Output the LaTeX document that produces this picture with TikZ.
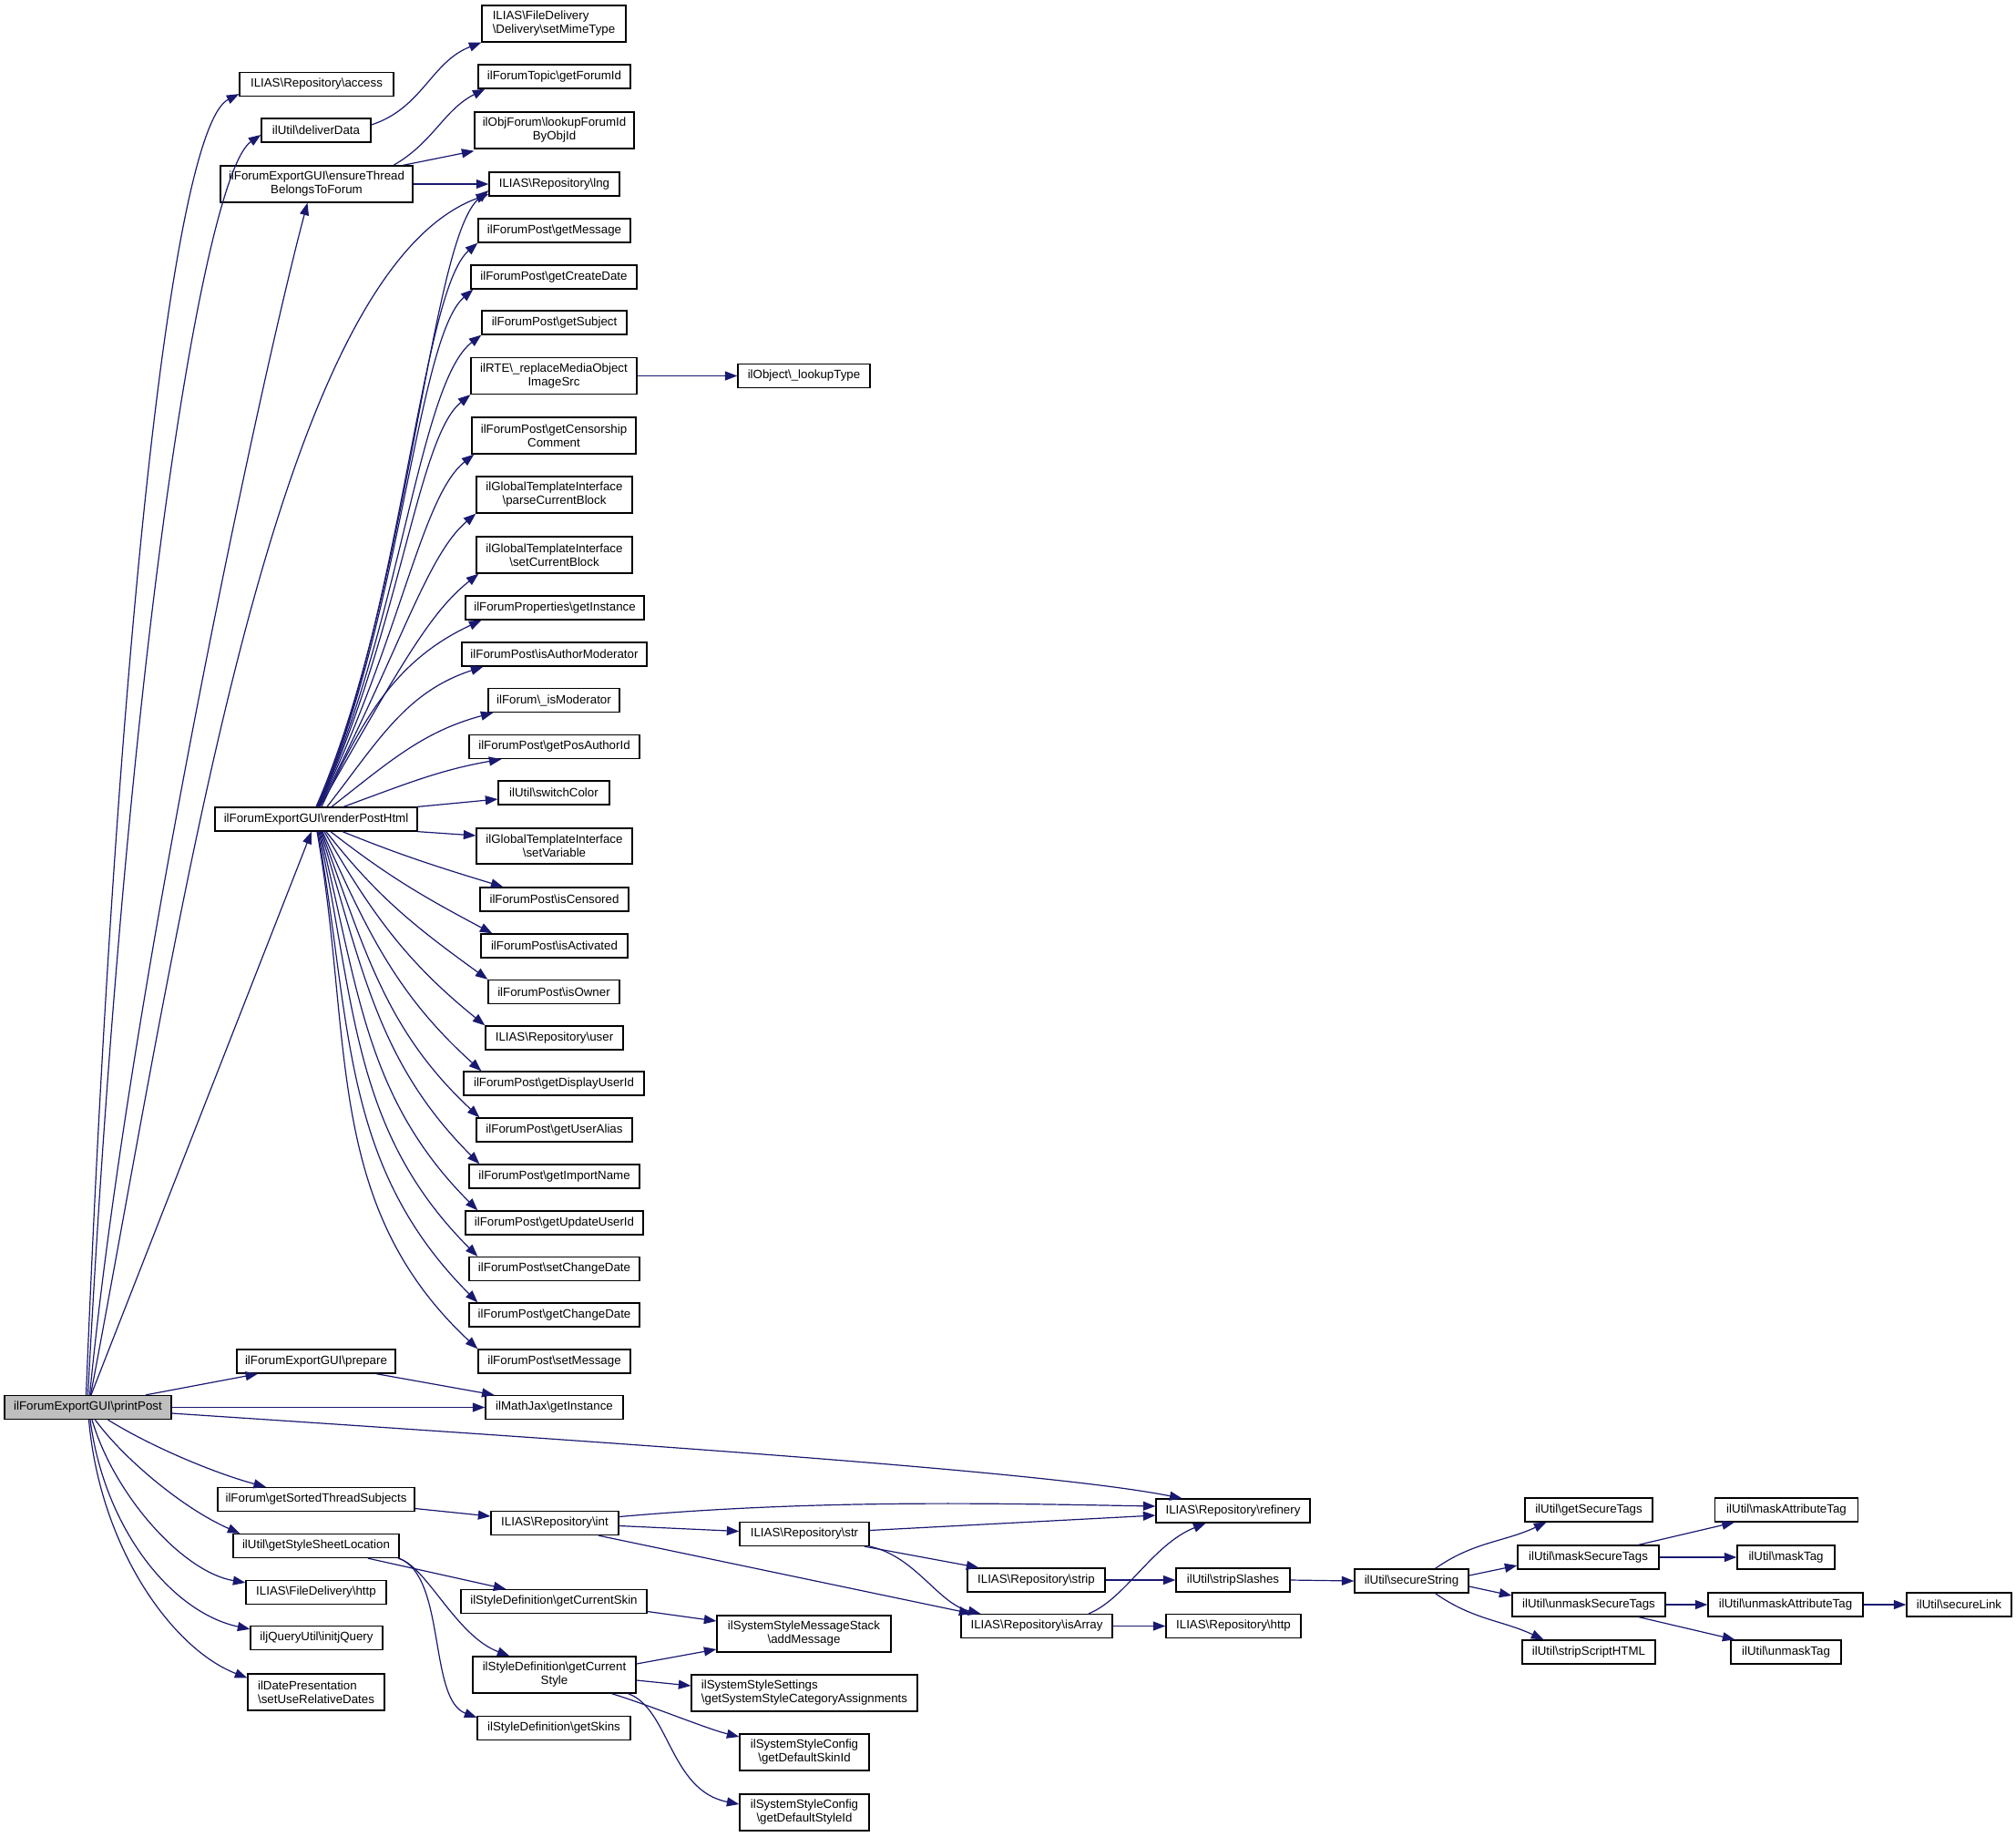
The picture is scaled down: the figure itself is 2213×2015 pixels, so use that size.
\documentclass[tikz,border=0pt]{standalone}
\usepackage{fontspec}
\setmainfont{Liberation Sans}
\usetikzlibrary{arrows.meta}
\definecolor{edgec}{HTML}{191970}
\definecolor{ppfill}{HTML}{BFBFBF}
\newcommand{\dbs}{\textbackslash}
\newcommand{\dfont}{\fontsize{13.3pt}{15pt}\selectfont}
\begin{document}
\begin{tikzpicture}[x=1pt,y=1pt,
  box/.style={draw=black, line width=1.3pt, fill=white, inner sep=0pt, minimum height=26pt, font=\dfont, align=center},
  two/.style={minimum height=40pt},
  lft/.style={align=left},
  e/.style={draw=edgec, line width=1.2pt, -{Triangle[length=13.5pt,width=10pt]}}]
\useasboundingbox (0,0) rectangle (2213,-2015);
% column 0
\node[box, minimum width=183, fill=ppfill] (pp) at (96.5,-1544.5) {ilForumExportGUI\dbs printPost};
% column 1
\node[box, minimum width=169] (acc) at (347.5,-92.5) {ILIAS\dbs Repository\dbs access};
\node[box, minimum width=120] (dd) at (347,-143) {ilUtil\dbs deliverData};
\node[box, two, minimum width=211] (et) at (347.5,-202) {ilForumExportGUI\dbs ensureThread\\BelongsToForum};
\node[box, minimum width=222] (rp) at (347,-899) {ilForumExportGUI\dbs renderPostHtml};
\node[box, minimum width=174] (prep) at (347,-1494) {ilForumExportGUI\dbs prepare};
\node[box, minimum width=216] (gsts) at (347,-1645.5) {ilForum\dbs getSortedThreadSubjects};
\node[box, minimum width=182] (gssl) at (347,-1696.5) {ilUtil\dbs getStyleSheetLocation};
\node[box, minimum width=154] (fdh) at (347,-1747.5) {ILIAS\dbs FileDelivery\dbs http};
\node[box, minimum width=145] (ijq) at (347.5,-1797.5) {iljQueryUtil\dbs initjQuery};
\node[box, two, lft, minimum width=150] (surd) at (347,-1857) {ilDatePresentation\\\dbs setUseRelativeDates};
% column 2
\node[box, two, lft, minimum width=158] (smt) at (608,-26) {ILIAS\dbs FileDelivery\\\dbs Delivery\dbs setMimeType};
\node[box, minimum width=167] (gfi) at (608.5,-84) {ilForumTopic\dbs getForumId};
\node[box, two, minimum width=175] (lfi) at (608.5,-143) {ilObjForum\dbs lookupForumId\\ByObjId};
\node[box, minimum width=143] (lng) at (608.5,-202) {ILIAS\dbs Repository\dbs lng};
\node[box, minimum width=167] (gm) at (608.5,-253) {ilForumPost\dbs getMessage};
\node[box, minimum width=182] (gcd) at (608,-304) {ilForumPost\dbs getCreateDate};
\node[box, minimum width=159] (gs) at (608.5,-354) {ilForumPost\dbs getSubject};
\node[box, two, minimum width=182] (rmo) at (608,-412.5) {ilRTE\dbs\_replaceMediaObject\\ImageSrc};
\node[box, two, minimum width=180] (gcc) at (608,-478) {ilForumPost\dbs getCensorship\\Comment};
\node[box, two, minimum width=171] (pcb) at (608.5,-543) {ilGlobalTemplateInterface\\\dbs parseCurrentBlock};
\node[box, two, minimum width=171] (scb) at (608.5,-609) {ilGlobalTemplateInterface\\\dbs setCurrentBlock};
\node[box, minimum width=196] (fpi) at (609,-667) {ilForumProperties\dbs getInstance};
\node[box, minimum width=203] (iam) at (608.5,-718) {ilForumPost\dbs isAuthorModerator};
\node[box, minimum width=144] (ism) at (608,-768.5) {ilForum\dbs\_isModerator};
\node[box, minimum width=187] (gpa) at (608.5,-819.5) {ilForumPost\dbs getPosAuthorId};
\node[box, minimum width=122] (swc) at (608,-870) {ilUtil\dbs switchColor};
\node[box, two, minimum width=171, minimum height=39pt] (sv) at (608.5,-928.5) {ilGlobalTemplateInterface\\\dbs setVariable};
\node[box, minimum width=163] (ic) at (608.5,-987) {ilForumPost\dbs isCensored};
\node[box, minimum width=161] (ia) at (608.5,-1038) {ilForumPost\dbs isActivated};
\node[box, minimum width=144] (io) at (608,-1088.5) {ilForumPost\dbs isOwner};
\node[box, minimum width=151] (usr) at (608.5,-1139) {ILIAS\dbs Repository\dbs user};
\node[box, minimum width=198] (gdu) at (608,-1189) {ilForumPost\dbs getDisplayUserId};
\node[box, minimum width=171] (gua) at (608.5,-1240) {ilForumPost\dbs getUserAlias};
\node[box, minimum width=187] (gin) at (608.5,-1291) {ilForumPost\dbs getImportName};
\node[box, minimum width=195] (guu) at (608.5,-1342) {ilForumPost\dbs getUpdateUserId};
\node[box, minimum width=187] (scd) at (608.5,-1392.5) {ilForumPost\dbs setChangeDate};
\node[box, minimum width=187] (gchd) at (608.5,-1443) {ilForumPost\dbs getChangeDate};
\node[box, minimum width=167] (sm) at (608.5,-1494) {ilForumPost\dbs setMessage};
\node[box, minimum width=151] (mj) at (608.5,-1544.5) {ilMathJax\dbs getInstance};
\node[box, minimum width=140] (int) at (609,-1671.5) {ILIAS\dbs Repository\dbs int};
\node[box, minimum width=204] (gcs) at (608,-1757.5) {ilStyleDefinition\dbs getCurrentSkin};
\node[box, two, minimum width=179] (gcst) at (608.5,-1838) {ilStyleDefinition\dbs getCurrent\\Style};
\node[box, minimum width=168] (gsk) at (608,-1896.5) {ilStyleDefinition\dbs getSkins};
% column 3
\node[box, minimum width=145] (lt) at (882.5,-412.5) {ilObject\dbs\_lookupType};
\node[box, minimum width=142] (str) at (883,-1683.5) {ILIAS\dbs Repository\dbs str};
\node[box, two, minimum width=191] (am) at (882.5,-1793) {ilSystemStyleMessageStack\\\dbs addMessage};
\node[box, two, lft, minimum width=248] (gssca) at (883,-1858) {ilSystemStyleSettings\\\dbs getSystemStyleCategoryAssignments};
\node[box, two, minimum width=142] (gdsk) at (883,-1923) {ilSystemStyleConfig\\\dbs getDefaultSkinId};
\node[box, two, minimum width=142] (gdst) at (883,-1989) {ilSystemStyleConfig\\\dbs getDefaultStyleId};
% column 4
\node[box, minimum width=151] (strip) at (1137.5,-1734) {ILIAS\dbs Repository\dbs strip};
\node[box, minimum width=166] (isa) at (1138,-1784.5) {ILIAS\dbs Repository\dbs isArray};
% column 5
\node[box, minimum width=169] (ref) at (1353.5,-1658) {ILIAS\dbs Repository\dbs refinery};
\node[box, minimum width=125] (ssl) at (1353.5,-1734) {ilUtil\dbs stripSlashes};
\node[box, minimum width=148] (rh) at (1354,-1784.5) {ILIAS\dbs Repository\dbs http};
% column 6
\node[box, minimum width=125] (ss) at (1549.5,-1735) {ilUtil\dbs secureString};
% column 7
\node[box, minimum width=140] (gst) at (1744,-1657) {ilUtil\dbs getSecureTags};
\node[box, minimum width=155] (mst) at (1743.5,-1709) {ilUtil\dbs maskSecureTags};
\node[box, minimum width=168] (ust) at (1744,-1761) {ilUtil\dbs unmaskSecureTags};
\node[box, minimum width=146] (ssh) at (1744,-1813) {ilUtil\dbs stripScriptHTML};
% column 8
\node[box, minimum width=157] (mat) at (1961,-1657) {ilUtil\dbs maskAttributeTag};
\node[box, minimum width=107] (mt) at (1960.5,-1709) {ilUtil\dbs maskTag};
\node[box, minimum width=170] (uat) at (1960,-1761) {ilUtil\dbs unmaskAttributeTag};
\node[box, minimum width=121] (ut) at (1960.5,-1813) {ilUtil\dbs unmaskTag};
% column 9
\node[box, minimum width=115] (sl) at (2150.5,-1761) {ilUtil\dbs secureLink};

% ---- edges from printPost
\draw[e] ([xshift=-2pt]pp.north) .. controls (128,-700) and (190,-140) .. ([yshift=3pt]acc.south west);
\draw[e] ([xshift=0pt]pp.north) .. controls (140,-700) and (225,-190) .. ([yshift=-5pt]dd.west);
\draw[e] ([xshift=2pt]pp.north) .. controls (140,-1100) and (285,-420) .. ([xshift=-10pt]et.south);
\draw[e] ([xshift=3pt]pp.north) .. controls (200,-1000) and (300,-300) .. ([yshift=-11pt]lng.west);
\draw[e] ([xshift=3.5pt]pp.north) -- ([xshift=-5pt]rp.south);
\draw[e] ([xshift=63.5pt]pp.north) -- ([xshift=-64pt]prep.south);
\draw[e] (pp.east) -- (mj.west);
\draw[e] ([yshift=-6.5pt]pp.east) .. controls (700,-1585) and (1150,-1615) .. ([xshift=-56pt]ref.north);
\draw[e] ([xshift=22pt]pp.south) .. controls (170,-1590) and (240,-1618) .. ([xshift=-55pt]gsts.north);
\draw[e] ([xshift=8pt]pp.south) .. controls (135,-1600) and (200,-1655) .. ([xshift=8pt]gssl.north west);
\draw[e] ([xshift=4.5pt]pp.south) .. controls (125,-1640) and (200,-1725) .. ([yshift=-3pt]fdh.north west);
\draw[e] ([xshift=2.5pt]pp.south) .. controls (115,-1680) and (190,-1770) .. ([yshift=-4pt]ijq.north west);
\draw[e] ([xshift=1pt]pp.south) .. controls (110,-1700) and (190,-1810) .. ([yshift=-5pt]surd.north west);

% ---- deliverData, ensureThread
\draw[e] ([yshift=6pt]dd.east) to[out=18,in=201] (smt.south west);
\draw[e] ([xshift=84.5pt]et.north) to[out=30,in=207] ([xshift=8pt]gfi.south west);
\draw[e] ([xshift=95pt]et.north) -- ([yshift=-2pt]lfi.south west);
\draw[e] (et.east) -- (lng.west);

% ---- renderPostHtml upward fan
\draw[e] ([xshift=0pt]rp.north) .. controls (450,-650) and (472,-262) .. ([yshift=-7pt]lng.west);
\draw[e] ([xshift=1pt]rp.north) .. controls (440,-680) and (462,-320) .. (gm.south west);
\draw[e] ([xshift=1.5pt]rp.north) .. controls (440,-680) and (458,-370) .. ([xshift=3pt]gcd.south west);
\draw[e] ([xshift=2pt]rp.north) .. controls (440,-685) and (460,-420) .. (gs.south west);
\draw[e] ([xshift=2.5pt]rp.north) .. controls (440,-690) and (458,-480) .. (rmo.south west);
\draw[e] ([xshift=3pt]rp.north) .. controls (440,-700) and (462,-545) .. ([xshift=3pt]gcc.south west);
\draw[e] ([xshift=3.5pt]rp.north) .. controls (440,-712) and (468,-610) .. (pcb.south west);
\draw[e] ([xshift=4pt]rp.north) .. controls (440,-730) and (472,-672) .. ([xshift=3pt]scb.south west);
\draw[e] ([xshift=6pt]rp.north) to[out=65,in=205] ([xshift=18pt]fpi.south west);
\draw[e] ([xshift=12pt]rp.north) to[out=52,in=198] ([xshift=24pt]iam.south west);
\draw[e] ([xshift=17pt]rp.north) to[out=38,in=195] ([xshift=6pt]ism.south west);
\draw[e] ([xshift=30pt]rp.north) to[out=20,in=190] ([xshift=36pt]gpa.south west);
\draw[e] (rp.north east) -- ([yshift=-7pt]swc.west);
\draw[e] (rp.south east) -- ([yshift=11.5pt]sv.west);
% ---- renderPostHtml downward fan
\draw[e] ([xshift=29pt]rp.south) to[out=-22,in=163] ([xshift=26pt]ic.north west);
\draw[e] ([xshift=16pt]rp.south) to[out=-38,in=152] ([xshift=13pt]ia.north west);
\draw[e] ([xshift=11pt]rp.south) to[out=-52,in=144] (io.north west);
\draw[e] ([xshift=9pt]rp.south) to[out=-60,in=141] (usr.north west);
\draw[e] ([xshift=7pt]rp.south) to[out=-66,in=138] ([xshift=20pt]gdu.north west);
\draw[e] ([xshift=6pt]rp.south) to[out=-70,in=137] ([xshift=4pt]gua.north west);
\draw[e] ([xshift=5pt]rp.south) to[out=-73,in=135] ([xshift=12pt]gin.north west);
\draw[e] ([xshift=4pt]rp.south) to[out=-76,in=135] ([xshift=14pt]guu.north west);
\draw[e] ([xshift=3pt]rp.south) to[out=-78,in=135] ([xshift=10pt]scd.north west);
\draw[e] ([xshift=2pt]rp.south) to[out=-80,in=135] ([xshift=10pt]gchd.north west);
\draw[e] ([xshift=1pt]rp.south) to[out=-80,in=137] (sm.north west);

\draw[e] (rmo.east) -- (lt.west);
\draw[e] ([xshift=66pt]prep.south) -- ([xshift=-66pt]mj.north);

% ---- lower part
\draw[e] ([yshift=-10pt]gsts.east) -- ([yshift=7.5pt]int.west);
\draw[e] ([yshift=7pt]int.east) .. controls (900,-1645) and (1100,-1650) .. ([yshift=5pt]ref.west);
\draw[e] ([yshift=-3pt]int.east) -- ([yshift=3pt]str.west);
\draw[e] ([xshift=48pt]int.south) -- ([xshift=12pt]isa.north west);
\draw[e] ([yshift=4pt]str.east) -- ([yshift=-5pt]ref.west);
\draw[e] ([xshift=66pt]str.south) -- ([xshift=13pt]strip.north west);
\draw[e] ([xshift=72pt]str.south) .. controls (1005,-1708) and (1030,-1760) .. ([xshift=22pt]isa.north west);
\draw[e] (strip.east) -- (ssl.west);
\draw[e] (ssl.east) -- (ss.west);
\draw[e] ([xshift=57pt]isa.north) .. controls (1235,-1755) and (1265,-1695) .. ([xshift=-30pt]ref.south);
\draw[e] (isa.east) -- (rh.west);

\draw[e] ([xshift=26pt]ss.north) to[out=35,in=205] ([xshift=24pt]gst.south west);
\draw[e] ([yshift=6pt]ss.east) -- ([yshift=-9pt]mst.west);
\draw[e] ([yshift=-6pt]ss.east) -- ([yshift=10pt]ust.west);
\draw[e] ([xshift=26pt]ss.south) to[out=-35,in=155] ([xshift=24pt]ssh.north west);
\draw[e] ([xshift=55pt]mst.north) -- ([xshift=22pt]mat.south west);
\draw[e] (mst.east) -- (mt.west);
\draw[e] (ust.east) -- (uat.west);
\draw[e] ([xshift=55pt]ust.south) -- ([xshift=5pt]ut.north west);
\draw[e] (uat.east) -- (sl.west);

\draw[e] ([xshift=57pt]gssl.south) -- ([xshift=50pt]gcs.north west);
\draw[e] ([xshift=90pt]gssl.south) .. controls (468,-1718) and (500,-1795) .. ([xshift=41pt]gcst.north west);
\draw[e] ([xshift=91pt]gssl.south) .. controls (490,-1730) and (470,-1865) .. ([yshift=-2pt]gsk.north west);
\draw[e] ([yshift=-11pt]gcs.east) -- ([yshift=14pt]am.west);
\draw[e] ([yshift=12pt]gcst.east) -- ([yshift=-17pt]am.west);
\draw[e] ([yshift=-6pt]gcst.east) -- ([yshift=8pt]gssca.west);
\draw[e] ([xshift=63pt]gcst.south) .. controls (715,-1872) and (775,-1897) .. ([yshift=17pt]gdsk.west);
\draw[e] ([xshift=81pt]gcst.south) .. controls (735,-1875) and (735,-1965) .. ([yshift=9pt]gdst.west);
\end{tikzpicture}
\end{document}
